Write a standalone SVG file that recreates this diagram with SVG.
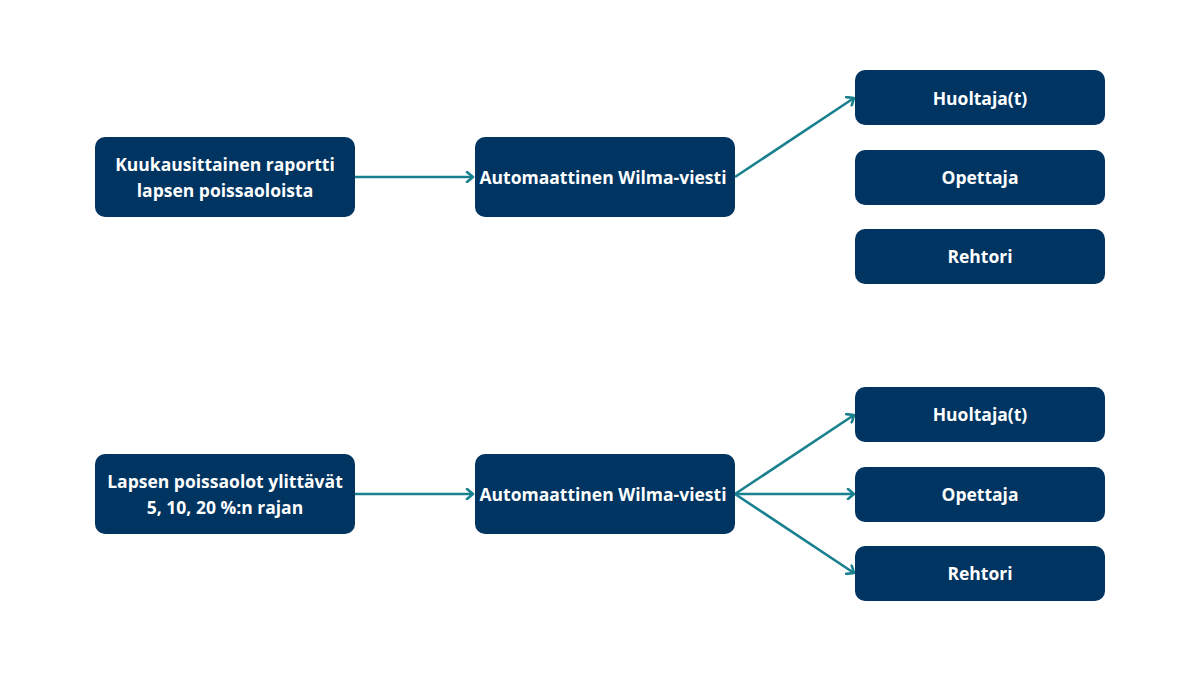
<svg xmlns="http://www.w3.org/2000/svg" width="1200" height="700" viewBox="0 0 1200 700">
<defs>
<style>
.node rect{fill:#003461;}
.node text{fill:#ffffff;font-family:"Open Sans","Liberation Sans",sans-serif;font-weight:700;font-size:17.5px;text-anchor:middle;dominant-baseline:central;}
.conn line{stroke:#18808e;stroke-width:2.6;fill:none;marker-end:url(#ah);}
</style>
<marker id="ah" markerWidth="12" markerHeight="12" refX="9" refY="6" orient="auto" markerUnits="userSpaceOnUse">
<path d="M3,1 L9,6 L3,11" fill="none" stroke="#18808e" stroke-width="2.6" stroke-linecap="round" stroke-linejoin="round"/>
</marker>
</defs>
<rect width="1200" height="700" fill="#ffffff"/>
<g class="conn" id="connectors">
<line x1="355" y1="177" x2="473" y2="177"/>
<line x1="735" y1="177" x2="854" y2="98"/>
<line x1="355" y1="494" x2="473" y2="494"/>
<line x1="735" y1="494" x2="854" y2="415"/>
<line x1="735" y1="494" x2="854" y2="494"/>
<line x1="735" y1="494" x2="854" y2="573"/>
</g>
<g class="node" id="n1"><rect x="95" y="137" width="260" height="80" rx="10"/><text x="225" y="164">Kuukausittainen raportti</text><text x="225" y="190">lapsen poissaoloista</text></g>
<g class="node" id="n2"><rect x="475" y="137" width="260" height="80" rx="10"/><text x="603" y="177">Automaattinen Wilma-viesti</text></g>
<g class="node" id="n3"><rect x="855" y="70" width="250" height="55" rx="10"/><text x="980" y="98">Huoltaja(t)</text></g>
<g class="node" id="n4"><rect x="855" y="150" width="250" height="55" rx="10"/><text x="980" y="177">Opettaja</text></g>
<g class="node" id="n5"><rect x="855" y="229" width="250" height="55" rx="10"/><text x="980" y="256">Rehtori</text></g>
<g class="node" id="n6"><rect x="95" y="454" width="260" height="80" rx="10"/><text x="225" y="481">Lapsen poissaolot ylittävät</text><text x="225" y="507">5, 10, 20 %:n rajan</text></g>
<g class="node" id="n7"><rect x="475" y="454" width="260" height="80" rx="10"/><text x="603" y="494">Automaattinen Wilma-viesti</text></g>
<g class="node" id="n8"><rect x="855" y="387" width="250" height="55" rx="10"/><text x="980" y="414">Huoltaja(t)</text></g>
<g class="node" id="n9"><rect x="855" y="467" width="250" height="55" rx="10"/><text x="980" y="494">Opettaja</text></g>
<g class="node" id="n10"><rect x="855" y="546" width="250" height="55" rx="10"/><text x="980" y="573">Rehtori</text></g>
</svg>
